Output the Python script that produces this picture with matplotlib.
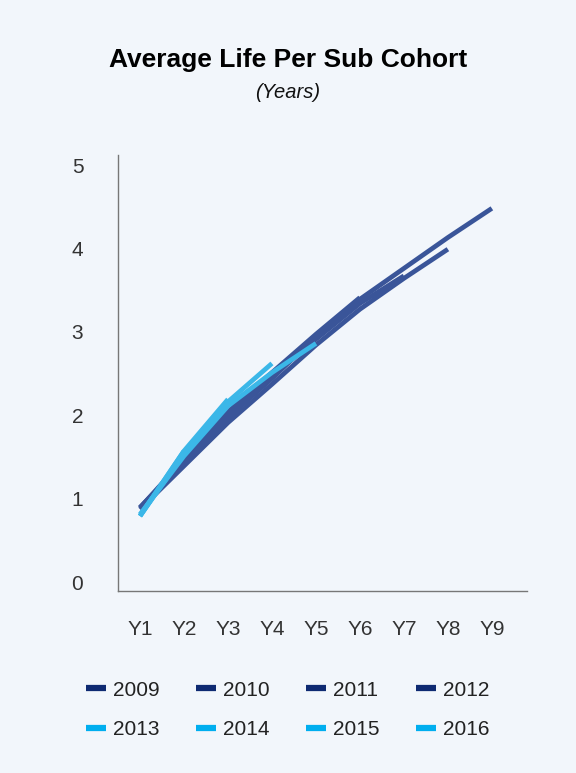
import matplotlib
matplotlib.use('Agg')
import matplotlib.pyplot as plt
from matplotlib.lines import Line2D
from matplotlib.transforms import ScaledTranslation

plt.rcParams['font.family'] = ['Liberation Sans', 'DejaVu Sans']

# 数据
periods = ['Y1', 'Y2', 'Y3', 'Y4', 'Y5', 'Y6', 'Y7', 'Y8', 'Y9']
cohorts = ['2009', '2010', '2011', '2012', '2013', '2014', '2015', '2016']
life_2009 = [1.00, 1.55, 2.08, 2.55, 3.05, 3.50, 3.87, 4.24, 4.59]
life_2010 = [0.98, 1.50, 2.02, 2.48, 2.95, 3.38, 3.75, 4.10]
life_2011 = [1.00, 1.55, 2.10, 2.58, 3.02, 3.45, 3.78]
life_2012 = [1.00, 1.58, 2.15, 2.62, 3.08, 3.52]
life_2013 = [0.92, 1.62, 2.22, 2.62, 2.97]
life_2014 = [0.90, 1.65, 2.27, 2.73]
life_2015 = [0.90, 1.68, 2.30]
life_2016 = [0.90, 1.68]
series = [life_2009, life_2010, life_2011, life_2012,
          life_2013, life_2014, life_2015, life_2016]

bg = '#f2f6fb'
dark_line, light_line = '#3a5599', '#3bb7e8'
dark_key, light_key = '#0e2a72', '#00aeef'

fig = plt.figure(figsize=(5.76, 7.73), dpi=100, facecolor=bg)
ax = fig.add_axes([0.2049, 0.2354, 0.7101, 0.5641], facecolor=bg)

for i, vals in enumerate(series):
    c = dark_line if i < 4 else light_line
    ax.plot(range(len(vals)), vals, color=c, lw=3.4, solid_capstyle='butt', zorder=2 + i)

ax.set_xlim(-0.5, 8.8)
ax.set_ylim(0, 5.23)
ax.set_xticks(range(len(periods)))
ax.set_xticklabels(periods)
ax.set_yticks(range(6))
ax.tick_params(axis='both', length=0, labelsize=15, colors='#333333')
ax.tick_params(axis='x', pad=21)
ax.tick_params(axis='y', pad=25)
for lab in ax.get_yticklabels():
    lab.set_transform(lab.get_transform() + ScaledTranslation(0, 9 / 100, fig.dpi_scale_trans))

for s in ['top', 'right']:
    ax.spines[s].set_visible(False)
for s in ['left', 'bottom']:
    ax.spines[s].set_color('#777777')
    ax.spines[s].set_linewidth(1.0)

fig.text(0.5, 1 - 60 / 773, 'Average Life Per Sub Cohort', ha='center', va='center',
         fontsize=19, fontweight='bold', color='#000000')
fig.text(0.5, 1 - 92 / 773, '(Years)', ha='center', va='center',
         fontsize=14.5, fontstyle='italic', color='#111111')

# 图例 (按列顺序排列, 使每行依次为 2009-2012, 2013-2016)
handles = []
for i, name in enumerate(cohorts):
    c = dark_key if i < 4 else light_key
    handles.append(Line2D([], [], color=c, lw=4.5, solid_capstyle='butt', label=name))
order = [0, 4, 1, 5, 2, 6, 3, 7]
fig.legend([handles[k] for k in order], [cohorts[k] for k in order],
           ncol=4, loc='center', bbox_to_anchor=(0.5, 1 - 710 / 773),
           frameon=False, fontsize=15, handlelength=0.95, handletextpad=0.35,
           columnspacing=1.75, labelspacing=1.0, labelcolor='#222222')

fig.savefig('out.png', dpi=100, facecolor=bg)
